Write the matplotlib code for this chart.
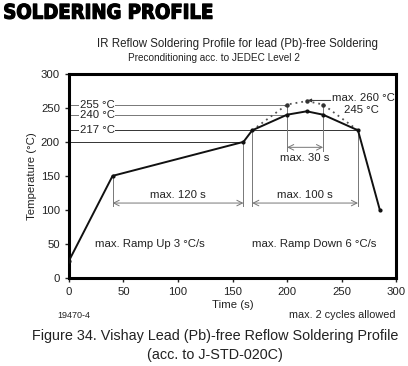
import matplotlib.pyplot as plt
import matplotlib.patheffects as pe

plt.rcParams["font.family"] = ["Liberation Sans", "DejaVu Sans"]

# solder profile (time s, temperature °C)
profile_time = [0, 40, 160, 168, 200, 218, 233, 265, 285]
profile_temp = [25, 150, 200, 217, 240, 245, 240, 217, 100]

# dotted max envelope
envelope_time = [168, 200, 218, 233, 265]
envelope_temp = [217, 255, 260, 255, 217]

level_temps = [255, 240, 217]
level_labels = ["255 °C", "240 °C", "217 °C"]
level_ends = [200, 200, 265]

TEXT = "#222222"
GRAY = "#777777"
FS = 8.2

fig = plt.figure(figsize=(4.08, 3.66), dpi=100)
ax = fig.add_axes([0.169, 0.241, 0.802, 0.557])

# reference levels
ax.plot([0, 160], [200, 200], color="#333333", linewidth=0.7)
for temp, label, end in zip(level_temps, level_labels, level_ends):
    color = "#333333" if temp == 217 else GRAY
    ax.plot([0, end], [temp, temp], color=color, linewidth=0.7, zorder=1)
    ax.text(10, temp, label, fontsize=FS, color=TEXT, va="center", ha="left",
            bbox=dict(facecolor="white", edgecolor="none", pad=0.3), zorder=2)

# vertical guide lines
for x, top in [(40, 150), (160, 200), (168, 217), (265, 217)]:
    ax.plot([x, x], [106, top], color=GRAY, linewidth=0.7)
for x, top in [(200, 255), (233, 255)]:
    ax.plot([x, x], [186, top], color=GRAY, linewidth=0.7)

arrow = dict(arrowstyle="<->", color=GRAY, linewidth=0.7, shrinkA=0, shrinkB=0)
ax.annotate("", xy=(40, 110), xytext=(160, 110), arrowprops=arrow)
ax.annotate("", xy=(168, 110), xytext=(265, 110), arrowprops=arrow)
ax.annotate("", xy=(200, 192), xytext=(233, 192), arrowprops=arrow)

ax.text(100, 114, "max. 120 s", fontsize=FS, color=TEXT, ha="center", va="bottom")
ax.text(216, 114, "max. 100 s", fontsize=FS, color=TEXT, ha="center", va="bottom")
ax.text(216, 176, "max. 30 s", fontsize=FS, color=TEXT, ha="center", va="center")

# envelope and profile
ax.plot(envelope_time, envelope_temp, color="#555555", linewidth=1.3, linestyle=(0, (1, 2.2)))
ax.plot(envelope_time[1:4], envelope_temp[1:4], "o", color="#333333", markersize=2.2)
ax.plot(profile_time, profile_temp, color="#111111", linewidth=1.4,
        marker="o", markersize=2, zorder=4)

ax.annotate("", xy=(219, 261), xytext=(240, 261),
            arrowprops=dict(arrowstyle="-|>", color="#333333", linewidth=0.7,
                            mutation_scale=5, shrinkA=0, shrinkB=0))
ax.text(241, 264, "max. 260 °C", fontsize=FS, color=TEXT, ha="left", va="center")
ax.text(252, 247, "245 °C", fontsize=FS, color=TEXT, ha="left", va="center")

ax.text(24, 49, "max. Ramp Up 3 °C/s", fontsize=FS, color=TEXT, ha="left", va="center")
ax.text(168, 50, "max. Ramp Down 6 °C/s", fontsize=FS, color=TEXT, ha="left", va="center")

ax.set_xlim(0, 300)
ax.set_ylim(0, 300)
ax.set_xticks(range(0, 301, 50))
ax.set_yticks(range(0, 301, 50))
ax.tick_params(labelsize=FS, colors=TEXT, length=3, width=1)
for spine in ax.spines.values():
    spine.set_linewidth(2.2)
ax.set_xlabel("Time (s)", fontsize=FS, color=TEXT, labelpad=2)
ax.set_ylabel("Temperature (°C)", fontsize=FS, color=TEXT, labelpad=3)

fig.text(0.008, 0.99, "SOLDERING PROFILE", fontsize=14.5, fontweight="bold",
         fontstretch="condensed", family="DejaVu Sans", ha="left", va="top",
         path_effects=[pe.withStroke(linewidth=0.9, foreground="black")])
fig.text(0.582, 0.879, "IR Reflow Soldering Profile for lead (Pb)-free Soldering",
         fontsize=8.3, color=TEXT, ha="center", va="center")
fig.text(0.524, 0.842, "Preconditioning acc. to JEDEC Level 2",
         fontsize=7.2, color=TEXT, ha="center", va="center")
fig.text(0.14, 0.139, "19470-4", fontsize=6.5, color=TEXT, ha="left", va="center")
fig.text(0.97, 0.139, "max. 2 cycles allowed", fontsize=7.8, color=TEXT, ha="right", va="center")
fig.text(0.527, 0.082, "Figure 34. Vishay Lead (Pb)-free Reflow Soldering Profile",
         fontsize=10.4, color=TEXT, ha="center", va="center")
fig.text(0.527, 0.030, "(acc. to J-STD-020C)", fontsize=10.4, color=TEXT,
         ha="center", va="center")

fig.savefig("out.png", dpi=100)
